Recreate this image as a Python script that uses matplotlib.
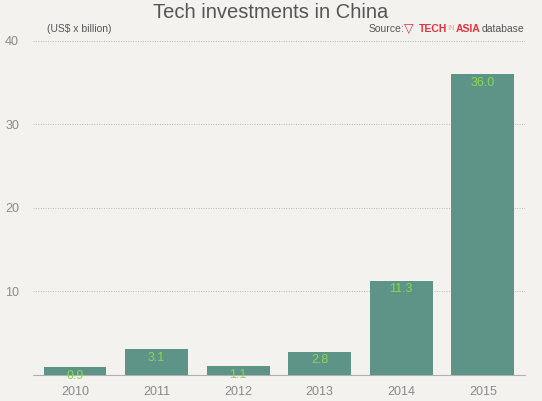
import matplotlib.pyplot as plt

years = ["2010", "2011", "2012", "2013", "2014", "2015"]
values = [0.9, 3.1, 1.1, 2.8, 11.3, 36.0]
labels = ["0.9", "3.1", "1.1", "2.8", "11.3", "36.0"]

BG = "#f3f2ef"
BAR = "#5e9387"
GREEN = "#86d94f"
GRAY = "#8a8a8a"
RED = "#e8323c"
W, H = 542, 401

plt.rcParams["font.family"] = ["Liberation Sans", "DejaVu Sans"]

fig = plt.figure(figsize=(5.42, 4.01), dpi=100, facecolor=BG)
ax = fig.add_axes([0.061, 0.065, 0.908, 0.833], facecolor=BG)

x = list(range(len(years)))
ax.bar(x, values, width=0.77, color=BAR, zorder=3)
for xi, v, lab in zip(x, values, labels):
    ax.text(xi, v - 0.35, lab, ha="center", va="top", color=GREEN, fontsize=9, zorder=4)

ax.set_xlim(-0.515, 5.52)
ax.set_ylim(0, 40)
ax.set_yticks([10, 20, 30, 40])
ax.set_xticks(x)
ax.set_xticklabels(years)
ax.yaxis.grid(True, linestyle=(0, (1, 1.5)), color="#b8b8b8", linewidth=0.7, zorder=0)
for s in ["top", "right", "left"]:
    ax.spines[s].set_visible(False)
ax.spines["bottom"].set_color("#b0b0b0")
ax.tick_params(axis="both", length=0, colors=GRAY, labelsize=9)
ax.tick_params(axis="x", pad=8)
ax.tick_params(axis="y", pad=10)


def px_text(px, py, s, **kw):
    fig.text(px / W, 1 - py / H, s, va="center", ha="left", **kw)


fig.text(0.5, 1 - 13 / H, "Tech investments in China", ha="center", va="center",
         fontsize=14.5, color="#555555")
px_text(47, 29, "(US$ x billion)", fontsize=7.5, color="#555555")

# source line with logo
px_text(369, 29, "Source:", fontsize=7.5, color="#555555")
px_text(404, 29, "\u25bd", fontsize=9, color=RED, fontweight="bold",
        family="DejaVu Sans")
px_text(419, 29, "TECH", fontsize=7.5, color=RED, fontweight="bold")
px_text(447, 29, "IN", fontsize=5.5, color="#f29aa0")
px_text(456, 29, "ASIA", fontsize=7.5, color=RED, fontweight="bold")
px_text(482, 29, "database", fontsize=7.5, color="#555555")

fig.savefig("out.png", dpi=100, facecolor=BG)
